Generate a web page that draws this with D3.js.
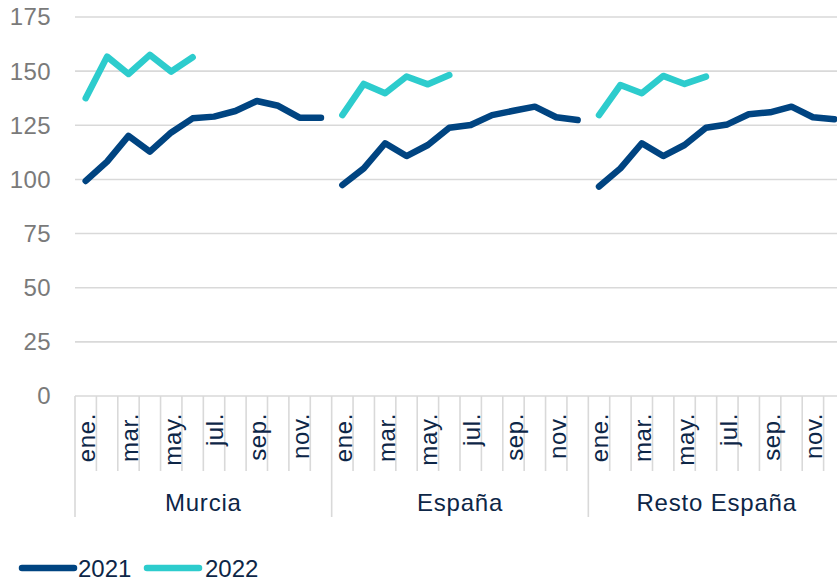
<!DOCTYPE html>
<html>
<head>
<meta charset="utf-8">
<script src="https://cdn.jsdelivr.net/npm/d3@7"></script>
<style>
  html, body { margin: 0; padding: 0; background: #fff; }
  svg { display: block; font-family: "Liberation Sans", Arial, sans-serif; }
</style>
</head>
<body>
<svg id="chart" width="837" height="581"></svg>
<script>
const groups = ["Murcia", "España", "Resto España"];
const months = ["ene.", "feb.", "mar.", "abr.", "may.", "jun.", "jul.", "ago.", "sep.", "oct.", "nov.", "dic."];
const shownMonths = ["ene.", "mar.", "may.", "jul.", "sep.", "nov."];
const yTicks = [0, 25, 50, 75, 100, 125, 150, 175];

const murcia2021 = [99.3, 108.2, 120.1, 112.8, 121.7, 128.2, 129.0, 131.6, 136.2, 134.0, 128.5, 128.5];
const murcia2022 = [137.5, 156.7, 148.7, 157.5, 149.8, 156.4];
const espana2021 = [97.4, 105.1, 116.7, 110.8, 115.9, 123.9, 125.1, 129.7, 131.7, 133.6, 128.7, 127.4];
const espana2022 = [129.7, 144.1, 139.8, 147.5, 143.9, 148.2];
const resto2021 = [96.7, 105.1, 116.7, 110.8, 115.9, 123.9, 125.4, 130.1, 131.0, 133.6, 128.7, 127.8];
const resto2022 = [129.7, 143.6, 139.8, 147.8, 144.1, 147.5];

const seriesNames = ["2021", "2022"];
const seriesColors = ["#004481", "#2DCCCD"];
const seriesData = {
  "2021": [murcia2021, espana2021, resto2021],
  "2022": [murcia2022, espana2022, resto2022]
};

(function () {
const svg = d3.select("#chart");
const pLeft = 75, pRight = 845, pTop = 17, pBottom = 396;
const gridColor = "#d9d9d9";
const textDark = "#0d2647";

const keys = [];
groups.forEach(g => months.forEach(m => keys.push(g + "|" + m)));

const x = d3.scaleBand().domain(keys).range([pLeft, pRight]).paddingInner(0).paddingOuter(0);
const y = d3.scaleLinear().domain([0, 175]).range([pBottom, pTop]);

// gridlines
svg.append("g")
  .selectAll("line")
  .data(yTicks)
  .join("line")
  .attr("x1", pLeft).attr("x2", pRight)
  .attr("y1", d => y(d)).attr("y2", d => y(d))
  .attr("stroke", gridColor).attr("stroke-width", 1.6);

// y labels
svg.append("g")
  .selectAll("text")
  .data(yTicks)
  .join("text")
  .attr("x", 51)
  .attr("y", d => y(d))
  .attr("dy", "0.35em")
  .attr("text-anchor", "end")
  .attr("fill", "#7a7a7a")
  .attr("font-size", 24)
  .attr("letter-spacing", 0.4)
  .text(d => d);

// month tick marks
const tickG = svg.append("g");
keys.forEach((k, i) => {
  const xx = x(k);
  const isGroupStart = i % 12 === 0;
  tickG.append("line")
    .attr("x1", xx).attr("x2", xx)
    .attr("y1", pBottom).attr("y2", isGroupStart ? 517 : 471)
    .attr("stroke", gridColor).attr("stroke-width", 1.6);
});
tickG.append("line")
  .attr("x1", pRight).attr("x2", pRight)
  .attr("y1", pBottom).attr("y2", 517)
  .attr("stroke", gridColor).attr("stroke-width", 1.6);

// month labels
svg.append("g")
  .selectAll("text")
  .data(keys.filter(k => shownMonths.includes(k.split("|")[1])))
  .join("text")
  .attr("transform", k => `translate(${x(k) + x.bandwidth() / 2 + 1},413) rotate(-90)`)
  .attr("text-anchor", "end")
  .attr("dy", "0.35em")
  .attr("fill", textDark)
  .attr("font-size", 24)
  .attr("letter-spacing", 0.6)
  .text(k => k.split("|")[1]);

// group labels
const groupWidth = x.bandwidth() * 12;
svg.append("g")
  .selectAll("text")
  .data(groups)
  .join("text")
  .attr("x", g => x(g + "|ene.") + groupWidth / 2)
  .attr("y", 511)
  .attr("text-anchor", "middle")
  .attr("fill", textDark)
  .attr("font-size", 24)
  .attr("letter-spacing", 0.8)
  .text(g => g);

// lines
const line = d3.line()
  .x(d => x(d.key) + x.bandwidth() / 2)
  .y(d => y(d.v));

seriesNames.forEach((s, si) => {
  seriesData[s].forEach((vals, gi) => {
    const pts = vals.map((v, mi) => ({ key: groups[gi] + "|" + months[mi], v }));
    svg.append("path")
      .datum(pts)
      .attr("d", line)
      .attr("fill", "none")
      .attr("stroke", seriesColors[si])
      .attr("stroke-width", 6.5)
      .attr("stroke-linejoin", "round")
      .attr("stroke-linecap", "round");
  });
});

// legend
const legendItems = [
  { name: "2021", color: seriesColors[0], x1: 22, x2: 74, tx: 78 },
  { name: "2022", color: seriesColors[1], x1: 147, x2: 199, tx: 205 }
];
const lg = svg.append("g");
legendItems.forEach(it => {
  lg.append("line")
    .attr("x1", it.x1).attr("x2", it.x2)
    .attr("y1", 568).attr("y2", 568)
    .attr("stroke", it.color).attr("stroke-width", 6.5)
    .attr("stroke-linecap", "round");
  lg.append("text")
    .attr("x", it.tx).attr("y", 577)
    .attr("fill", textDark)
    .attr("font-size", 24)
    .text(it.name);
});
})();
</script>
</body>
</html>
